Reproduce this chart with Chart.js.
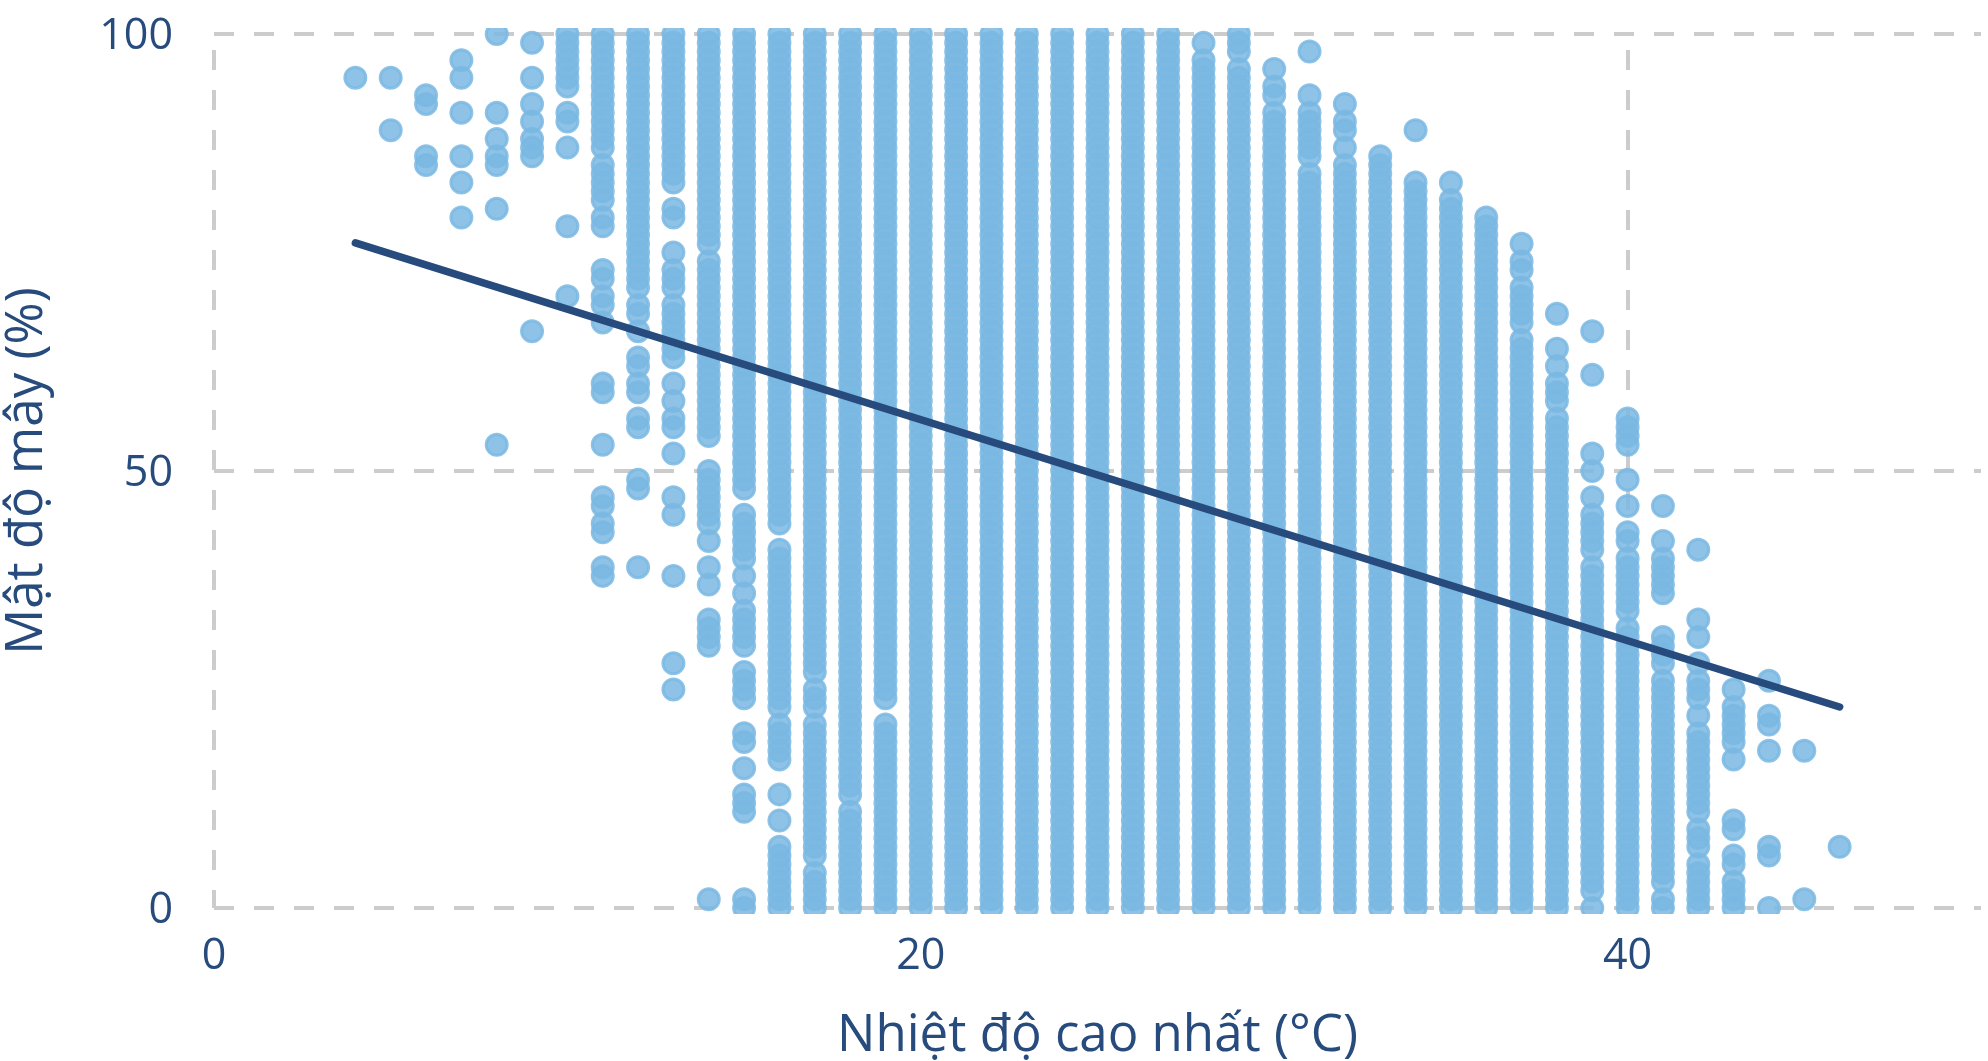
<!DOCTYPE html>
<html>
<head>
<meta charset="utf-8">
<title>Nhiệt độ cao nhất / Mật độ mây</title>
<script src="https://cdn.jsdelivr.net/npm/chart.js@4"></script>
<style>
  html, body { margin: 0; padding: 0; background: #fff; }
  canvas { display: block; }
</style>
</head>
<body>
<canvas id="chart" width="1988" height="1061"></canvas>
<script>
'use strict';

var xTicks = [0, 20, 40];
var yTicks = [0, 50, 100];
var trendTemps = [4, 46];
var trendCloud = [76.1, 23];

var temps = [4,5,6,7,8,9,10,11,12,13,14,15,16,17,18,19,20,21,22,23,24,25,26,27,28,29,30,31,32,33,34,35,36,37,38,39,40,41,42,43,44,45,46];

var allCloud = [100,99,98,97,96,95,94,93,92,91,90,89,88,87,86,85,84,83,82,81,80,79,78,77,76,75,74,73,72,71,70,69,68,67,66,65,64,63,62,61,60,59,58,57,56,55,54,53,52,51,50,49,48,47,46,45,44,43,42,41,40,39,38,37,36,35,34,33,32,31,30,29,28,27,26,25,24,23,22,21,20,19,18,17,16,15,14,13,12,11,10,9,8,7,6,5,4,3,2,1,0];

var cloudAt4 = [95];
var cloudAt5 = [95,89];
var cloudAt6 = [93,92,86,85];
var cloudAt7 = [97,95,91,86,83,79];
var cloudAt8 = [100,91,88,86,85,80,53];
var cloudAt9 = [99,95,92,90,88,87,86,66];
var cloudAt10 = [100,99,98,97,96,95,94,91,90,87,78,70];
var cloudAt11 = [100,99,98,97,96,95,94,93,92,91,90,89,88,87,85,84,83,82,81,79,78,73,72,70,69,67,60,59,53,47,46,44,43,39,38];
var cloudAt12 = [100,99,98,97,96,95,94,93,92,91,90,89,88,87,86,85,84,83,82,81,80,79,78,77,76,75,74,73,72,71,69,68,66,63,62,60,59,56,55,49,48,39];
var cloudAt13 = [100,99,98,97,96,95,94,93,92,91,90,89,88,87,86,85,84,83,80,79,75,73,72,71,69,68,67,66,65,64,63,60,58,56,55,52,47,45,38,28,25];
var cloudAt14 = [100,99,98,97,96,95,94,93,92,91,90,89,88,87,86,85,84,83,82,81,80,79,78,77,76,74,73,72,71,70,69,68,67,66,65,64,63,62,61,60,59,58,57,56,55,54,50,49,48,47,46,45,44,42,39,37,33,32,31,30,1];
var cloudAt15 = [100,99,98,97,96,95,94,93,92,91,90,89,88,87,86,85,84,83,82,81,80,79,78,77,76,75,74,73,72,71,70,69,68,67,66,65,64,63,62,61,60,59,58,57,56,55,54,53,52,51,50,49,48,45,44,43,42,41,40,38,36,34,33,32,31,30,27,26,25,24,20,19,16,13,12,11,1,0];
var cloudAt16 = [100,99,98,97,96,95,94,93,92,91,90,89,88,87,86,85,84,83,82,81,80,79,78,77,76,75,74,73,72,71,70,69,68,67,66,65,64,63,62,61,60,59,58,57,56,55,54,53,52,51,50,49,48,47,46,45,44,41,40,39,38,37,36,35,34,33,32,31,30,29,28,27,26,25,24,23,21,20,19,18,17,13,10,7,6,5,4,3,2,1,0];
var cloudAt17 = [100,99,98,97,96,95,94,93,92,91,90,89,88,87,86,85,84,83,82,81,80,79,78,77,76,75,74,73,72,71,70,69,68,67,66,65,64,63,62,61,60,59,58,57,56,55,54,53,52,51,50,49,48,47,46,45,44,43,42,41,40,39,38,37,36,35,34,33,32,31,30,29,28,27,25,24,23,21,20,19,18,17,16,15,14,13,12,11,10,9,8,7,6,4,3,2,1,0];
var cloudAt18 = [100,99,98,97,96,95,94,93,92,91,90,89,88,87,86,85,84,83,82,81,80,79,78,77,76,75,74,73,72,71,70,69,68,67,66,65,64,63,62,61,60,59,58,57,56,55,54,53,52,51,50,49,48,47,46,45,44,43,42,41,40,39,38,37,36,35,34,33,32,31,30,29,28,27,26,25,24,23,22,21,20,19,18,17,16,15,14,13,11,10,9,8,7,6,5,4,3,2,1,0];
var cloudAt19 = [100,99,98,97,96,95,94,93,92,91,90,89,88,87,86,85,84,83,82,81,80,79,78,77,76,75,74,73,72,71,70,69,68,67,66,65,64,63,62,61,60,59,58,57,56,55,54,53,52,51,50,49,48,47,46,45,44,43,42,41,40,39,38,37,36,35,34,33,32,31,30,29,28,27,26,25,24,21,20,19,18,17,16,15,14,13,12,11,10,9,8,7,6,5,4,3,2,1,0];
var cloudAt28 = [99,97,96,95,94,93,92,91,90,89,88,87,86,85,84,83,82,81,80,79,78,77,76,75,74,73,72,71,70,69,68,67,66,65,64,63,62,61,60,59,58,57,56,55,54,53,52,51,50,49,48,47,46,45,44,43,42,41,40,39,38,37,36,35,34,33,32,31,30,29,28,27,26,25,24,23,22,21,20,19,18,17,16,15,14,13,12,11,10,9,8,7,6,5,4,3,2,1,0];
var cloudAt29 = [100,99,98,96,95,94,93,92,91,90,89,88,87,86,85,84,83,82,81,80,79,78,77,76,75,74,73,72,71,70,69,68,67,66,65,64,63,62,61,60,59,58,57,56,55,54,53,52,51,50,49,48,47,46,45,44,43,42,41,40,39,38,37,36,35,34,33,32,31,30,29,28,27,26,25,24,23,22,21,20,19,18,17,16,15,14,13,12,11,10,9,8,7,6,5,4,3,2,1,0];
var cloudAt30 = [96,94,93,91,90,89,88,87,86,85,84,83,82,81,80,79,78,77,76,75,74,73,72,71,70,69,68,67,66,65,64,63,62,61,60,59,58,57,56,55,54,53,52,51,50,49,48,47,46,45,44,43,42,41,40,39,38,37,36,35,34,33,32,31,30,29,28,27,26,25,24,23,22,21,20,19,18,17,16,15,14,13,12,11,10,9,8,7,6,5,4,3,2,1,0];
var cloudAt31 = [98,93,91,90,89,88,87,86,84,83,82,81,80,79,78,77,76,75,74,73,72,71,70,69,68,67,66,65,64,63,62,61,60,59,58,57,56,55,54,53,52,51,50,49,48,47,46,45,44,43,42,41,40,39,38,37,36,35,34,33,32,31,30,29,28,27,26,25,24,23,22,21,20,19,18,17,16,15,14,13,12,11,10,9,8,7,6,5,4,3,2,1,0];
var cloudAt32 = [92,90,89,87,85,84,83,82,81,80,79,78,77,76,75,74,73,72,71,70,69,68,67,66,65,64,63,62,61,60,59,58,57,56,55,54,53,52,51,50,49,48,47,46,45,44,43,42,41,40,39,38,37,36,35,34,33,32,31,30,29,28,27,26,25,24,23,22,21,20,19,18,17,16,15,14,13,12,11,10,9,8,7,6,5,4,3,2,1,0];
var cloudAt33 = [86,85,84,83,82,81,80,79,78,77,76,75,74,73,72,71,70,69,68,67,66,65,64,63,62,61,60,59,58,57,56,55,54,53,52,51,50,49,48,47,46,45,44,43,42,41,40,39,38,37,36,35,34,33,32,31,30,29,28,27,26,25,24,23,22,21,20,19,18,17,16,15,14,13,12,11,10,9,8,7,6,5,4,3,2,1,0];
var cloudAt34 = [89,83,82,81,80,79,78,77,76,75,74,73,72,71,70,69,68,67,66,65,64,63,62,61,60,59,58,57,56,55,54,53,52,51,50,49,48,47,46,45,44,43,42,41,40,39,38,37,36,35,34,33,32,31,30,29,28,27,26,25,24,23,22,21,20,19,18,17,16,15,14,13,12,11,10,9,8,7,6,5,4,3,2,1,0];
var cloudAt35 = [83,81,80,79,78,77,76,75,74,73,72,71,70,69,68,67,66,65,64,63,62,61,60,59,58,57,56,55,54,53,52,51,50,49,48,47,46,45,44,43,42,41,40,39,38,37,36,35,34,33,32,31,30,29,28,27,26,25,24,23,22,21,20,19,18,17,16,15,14,13,12,11,10,9,8,7,6,5,4,3,2,1,0];
var cloudAt36 = [79,78,77,76,75,74,73,72,71,70,69,68,67,66,65,64,63,62,61,60,59,58,57,56,55,54,53,52,51,50,49,48,47,46,45,44,43,42,41,40,39,38,37,36,35,34,33,32,31,30,29,28,27,26,25,24,23,22,21,20,19,18,17,16,15,14,13,12,11,10,9,8,7,6,5,4,3,2,1,0];
var cloudAt37 = [76,74,73,71,70,69,68,67,65,64,63,62,61,60,59,58,57,56,55,54,53,52,51,50,49,48,47,46,45,44,43,42,41,40,39,38,37,36,35,34,33,32,31,30,29,28,27,26,25,24,23,22,21,20,19,18,17,16,15,14,13,12,11,10,9,8,7,6,5,4,3,2,1,0];
var cloudAt38 = [68,64,62,60,59,58,56,55,54,53,52,51,50,49,48,47,46,45,44,43,42,41,40,39,38,37,36,35,34,33,32,31,30,29,28,27,26,25,24,23,22,21,20,19,18,17,16,15,14,13,12,11,10,9,8,7,6,5,4,3,2,1,0];
var cloudAt39 = [66,61,52,50,47,45,44,43,42,41,39,38,37,36,35,34,33,32,31,30,29,28,27,26,25,24,23,22,21,20,19,18,17,16,15,14,13,12,11,10,9,8,7,6,5,4,3,2,0];
var cloudAt40 = [56,55,54,53,49,46,43,42,40,39,38,37,36,35,34,32,31,30,29,28,27,26,25,24,23,22,21,20,19,18,17,16,15,14,13,12,11,10,9,8,7,6,5,4,3,2,1,0];
var cloudAt41 = [46,42,40,39,38,37,36,31,30,29,28,26,25,24,23,22,21,20,19,18,17,16,15,14,13,12,11,10,9,8,7,6,5,4,3,1,0];
var cloudAt42 = [41,33,31,28,26,25,24,22,20,19,18,17,16,15,14,13,12,11,9,8,7,5,4,3,2,1,0];
var cloudAt43 = [25,23,22,21,20,19,17,10,9,6,5,3,2,1,0];
var cloudAt44 = [26,22,21,18,7,6,0];
var cloudAt45 = [18,1];
var cloudAt46 = [7];

var cloudByTemp = [cloudAt4, cloudAt5, cloudAt6, cloudAt7, cloudAt8, cloudAt9, cloudAt10, cloudAt11, cloudAt12, cloudAt13, cloudAt14, cloudAt15, cloudAt16, cloudAt17, cloudAt18, cloudAt19,
  allCloud, allCloud, allCloud, allCloud, allCloud, allCloud, allCloud, allCloud,
  cloudAt28, cloudAt29, cloudAt30, cloudAt31, cloudAt32, cloudAt33, cloudAt34, cloudAt35, cloudAt36, cloudAt37, cloudAt38, cloudAt39, cloudAt40, cloudAt41, cloudAt42, cloudAt43, cloudAt44, cloudAt45, cloudAt46];

var textColor = '#264b7c';
var gridColor = '#cccccc';
var fontFamily = '"Open Sans", "Noto Sans", sans-serif';

var points = [];
temps.forEach(function (t, i) {
  cloudByTemp[i].forEach(function (c) {
    points.push({ x: t, y: c });
  });
});

var trend = trendTemps.map(function (t, i) {
  return { x: t, y: trendCloud[i] };
});

new Chart(document.getElementById('chart'), {
  type: 'scatter',
  data: {
    datasets: [{
      label: 'Xu hướng',
      data: trend,
      showLine: true,
      borderColor: textColor,
      borderWidth: 7.5,
      borderCapStyle: 'round',
      pointRadius: 0,
      clip: false,
      order: 0
    }, {
      label: 'Mật độ mây',
      data: points,
      backgroundColor: 'rgba(122, 184, 227, 0.85)',
      borderColor: 'rgba(122, 184, 227, 0.85)',
      borderWidth: 3,
      pointRadius: 10.5,
      clip: { left: false, right: false, top: 6, bottom: 6 },
      order: 1
    }]
  },
  options: {
    responsive: false,
    devicePixelRatio: 1,
    animation: false,
    layout: { autoPadding: false, padding: { top: 34, right: 7, bottom: 0, left: 0 } },
    plugins: { legend: { display: false }, tooltip: { enabled: false } },
    scales: {
      x: {
        type: 'linear',
        min: 0,
        max: 50,
        afterFit: function (scale) {
          scale.height = 153;
          scale.paddingLeft = 0;
          scale.paddingRight = 0;
        },
        afterBuildTicks: function (scale) {
          scale.ticks = xTicks.map(function (v) { return { value: v }; });
        },
        grid: { color: gridColor, lineWidth: 4, drawTicks: false },
        border: { display: false, dash: [20, 20], dashOffset: 24 },
        ticks: { color: textColor, padding: 23, maxRotation: 0, autoSkip: false, font: { family: fontFamily, size: 43 } },
        title: { display: true, text: 'Nhiệt độ cao nhất (°C)', color: textColor, padding: { top: 14, bottom: -6 }, font: { family: fontFamily, size: 51 } }
      },
      y: {
        type: 'linear',
        min: 0,
        max: 100,
        afterFit: function (scale) {
          scale.width = 214;
          scale.paddingTop = 0;
          scale.paddingBottom = 0;
        },
        afterBuildTicks: function (scale) {
          scale.ticks = yTicks.map(function (v) { return { value: v }; });
        },
        grid: { color: gridColor, lineWidth: 4, drawTicks: false },
        border: { display: false, dash: [20, 20] },
        ticks: { color: textColor, padding: 41, labelOffset: 3, autoSkip: false, font: { family: fontFamily, size: 43 } },
        title: { display: true, text: 'Mật độ mây (%)', color: textColor, padding: { top: -3, bottom: 0 }, font: { family: fontFamily, size: 51 } }
      }
    }
  }
});
</script>
</body>
</html>
